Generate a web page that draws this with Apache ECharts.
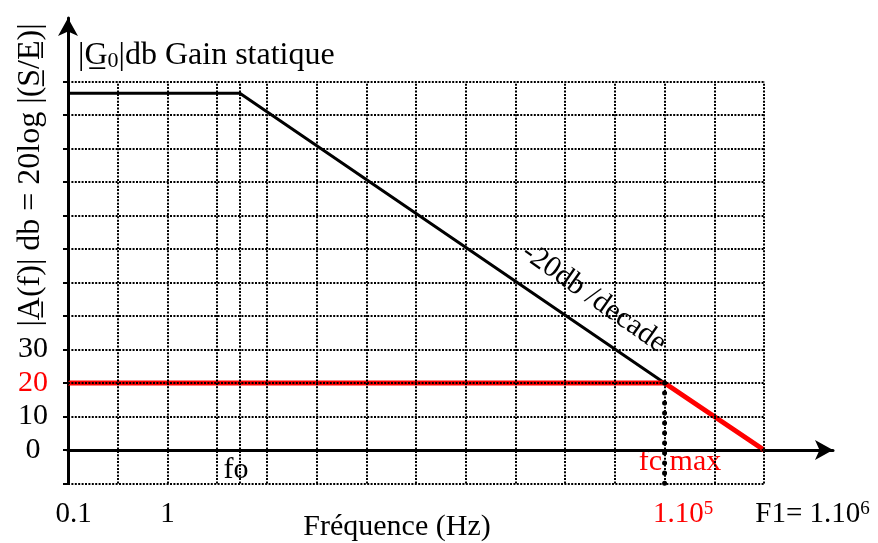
<!DOCTYPE html>
<html>
<head>
<meta charset="utf-8">
<script src="https://cdn.jsdelivr.net/npm/echarts@6/dist/echarts.min.js"></script>
<style>
    html, body {margin: 0; background: #fff;}
    #chart {width: 878px; height: 543px;}
</style>
</head>
<body>
<div id="chart"></div>
<script>
// grid positions (Hz / dB)
const freqGrid = [0.1, 0.3162, 1, 3.162, 5.35, 10, 31.62, 100, 316.2, 1000, 3162, 10000, 31623, 100000, 316228, 1000000];
const dbGrid = [-10, 0, 10, 20, 30, 40, 50, 60, 70, 80, 90, 100, 110];
// tick labels
const yTickLabels = [0, 10, 20, 30];
const xTickLabels = [0.1, 1, 100000, 1000000];
// curves
const staticGain = [[0.1, 106.5], [5.35, 106.5], [100000, 20]];
const closedLoop = [[0.1, 20], [100000, 20], [1000000, 0]];
const fcMax = [[100000, 20], [100000, -10]];

const SERIF = '"Liberation Serif", "Times New Roman", serif';

const chart = echarts.init(document.getElementById('chart'));

const gridLines = [];
freqGrid.forEach(f => gridLines.push([{coord: [f, dbGrid[0]]}, {coord: [f, dbGrid[dbGrid.length - 1]]}]));
dbGrid.forEach(d => gridLines.push([{coord: [freqGrid[0], d]}, {coord: [freqGrid[freqGrid.length - 1], d]}]));

const xLabel = (v) => {
    const i = xTickLabels.findIndex(t => Math.abs(Math.log10(v / t)) < 1e-6);
    if (i === 0) return '{s0| }{k|0.1}';
    if (i === 1) return '{k|1}';
    if (i === 2) return '{s2| }{r|1.10}{rs|5}';
    if (i === 3) return '{s3| }{k|F1= 1.10}{ks|6}';
    return '';
};

const option = {
    animation: false,
    backgroundColor: '#fff',
    grid: {left: 68, right: 45, top: 18, bottom: 59.5, outerBoundsMode: 'none', containLabel: false},
    xAxis: {
        type: 'log',
        logBase: 10,
        min: 0.1,
        max: Math.pow(10, 6.694),
        axisLine: {onZero: true, symbol: ['none', 'arrow'], symbolSize: [15, 18], lineStyle: {color: '#000', width: 3}},
        axisTick: {show: false},
        splitLine: {show: false},
        axisLabel: {
            margin: 16,
            hideOverlap: false,
            formatter: xLabel,
            rich: {
                k: {fontFamily: SERIF, fontSize: 29, color: '#000'},
                r: {fontFamily: SERIF, fontSize: 29, color: '#ff0000'},
                rs: {fontFamily: SERIF, fontSize: 19, color: '#ff0000', verticalAlign: 'top'},
                ks: {fontFamily: SERIF, fontSize: 19, color: '#000', verticalAlign: 'top'},
                s0: {width: 11, fontSize: 29},
                s2: {width: 37, fontSize: 29},
                s3: {width: 97, fontSize: 29}
            }
        }
    },
    yAxis: {
        type: 'value',
        min: -10,
        max: 129,
        interval: 10,
        axisLine: {show: true, onZero: false, symbol: ['none', 'arrow'], symbolSize: [15, 18], lineStyle: {color: '#000', width: 3}},
        axisTick: {show: true, length: 5, customValues: dbGrid, lineStyle: {color: '#000', width: 2}},
        splitLine: {show: false},
        axisLabel: {
            customValues: yTickLabels,
            margin: 35,
            align: 'center',
            formatter: v => v === 20 ? '{r|20}' : '{k|' + v + '}',
            rich: {
                k: {fontFamily: SERIF, fontSize: 30, color: '#000'},
                r: {fontFamily: SERIF, fontSize: 30, color: '#ff0000'}
            }
        }
    },
    series: [
        {
            type: 'line',
            data: [],
            z: 1,
            markLine: {
                silent: true,
                symbol: ['none', 'none'],
                label: {show: false},
                lineStyle: {color: '#000', type: [2, 1.4], width: 2},
                data: gridLines
            }
        },
        {
            type: 'line',
            data: staticGain,
            symbol: 'none',
            z: 3,
            lineStyle: {color: '#000', width: 3}
        },
        {
            type: 'line',
            data: closedLoop,
            symbol: 'none',
            z: 4,
            lineStyle: {color: '#ff0000', width: 5}
        },
        {
            type: 'line',
            data: fcMax,
            symbol: 'none',
            z: 5,
            lineStyle: {color: '#000', width: 5, type: [0.01, 10], cap: 'round'}
        }
    ],
    graphic: [
        {
            type: 'text', x: 31, y: 175, rotation: Math.PI / 2,
            style: {text: '|A\u0332(f)| db = 20log |(S\u0332/E\u0332)|', font: '32px ' + SERIF, fill: '#000', textAlign: 'center', textVerticalAlign: 'middle'}
        },
        {
            type: 'text', x: 78, y: 56,
            style: {
                text: '{k||}{k|G\u0332}{sub|0}{k||db Gain statique}',
                textAlign: 'left', textVerticalAlign: 'middle',
                rich: {
                    k: {fontFamily: SERIF, fontSize: 32, fill: '#000'},
                    sub: {fontFamily: SERIF, fontSize: 22, fill: '#000', verticalAlign: 'bottom'}
                }
            }
        },
        {
            type: 'text', x: 594, y: 298, rotation: -35 * Math.PI / 180,
            style: {text: '-20db /decade', font: '30px ' + SERIF, fill: '#000', textAlign: 'center', textVerticalAlign: 'middle'}
        },
        {
            type: 'text', x: 236, y: 470,
            style: {text: 'fo', font: '30px ' + SERIF, fill: '#000', textAlign: 'center', textVerticalAlign: 'middle'}
        },
        {
            type: 'text', x: 680, y: 462,
            style: {text: 'fc max', font: '30px ' + SERIF, fill: '#ff0000', textAlign: 'center', textVerticalAlign: 'middle'}
        },
        {
            type: 'text', x: 397, y: 527,
            style: {text: 'Fréquence (Hz)', font: '30px ' + SERIF, fill: '#000', textAlign: 'center', textVerticalAlign: 'middle'}
        }
    ]
};

chart.setOption(option);
</script>
</body>
</html>
